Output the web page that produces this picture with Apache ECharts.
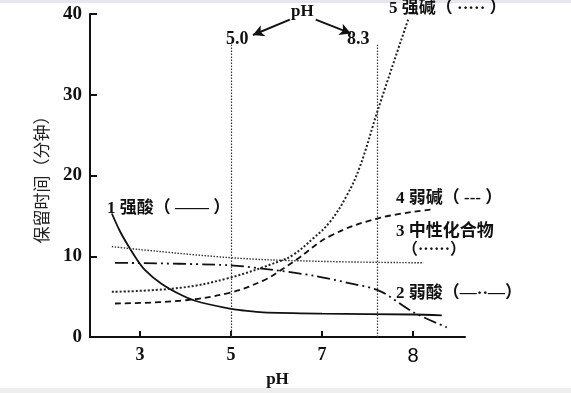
<!DOCTYPE html>
<html><head><meta charset="utf-8">
<script src="https://cdn.jsdelivr.net/npm/echarts@6/dist/echarts.min.js"></script>
<style>html,body{margin:0;padding:0;background:#fff}#c{width:571px;height:393px}</style>
</head><body><div id="c"></div>
<script>
// Tick labels
const xTickValues = [3, 5, 7, 9];
const xTickLabels = ['3', '5', '7', '8'];

// 1 strong acid (solid)
const strongAcidPH = [2.38, 2.55, 2.74, 2.92, 3.11, 3.47, 3.84, 4.21, 4.94, 5.3, 5.7, 7.0, 9.0, 9.63];
const strongAcidT  = [15.3, 13.2, 11.3, 9.7, 8.3, 6.6, 5.4, 4.5, 3.55, 3.27, 3.05, 2.9, 2.8, 2.7];
// 2 weak acid (dash-dot-dot)
const weakAcidPH = [2.45, 4.94, 6.08, 6.81, 7.54, 8.27, 9.0, 9.74];
const weakAcidT  = [9.2, 8.9, 8.2, 7.6, 6.75, 5.7, 3.1, 1.2];
// 3 neutral compound (fine dots)
const neutralPH = [2.38, 4.94, 6.81, 9.23];
const neutralT  = [11.2, 9.85, 9.4, 9.2];
// 4 weak base (dashed)
const weakBasePH = [2.45, 3.88, 4.94, 5.71, 6.07, 6.44, 7.17, 8.23, 9.41];
const weakBaseT  = [4.16, 4.5, 5.45, 7.0, 8.2, 9.6, 12.5, 14.7, 15.8];
// 5 strong base (dotted)
const strongBasePH = [2.38, 3.88, 4.94, 6.07, 6.37, 6.80, 7.17, 7.54, 7.83, 8.23, 8.89];
const strongBaseT  = [5.6, 6.1, 7.3, 9.4, 10.2, 12.2, 14.25, 17.5, 21.1, 28.2, 39.3];

// reference pH lines
const refPH = [5.0, 8.22];
const refTop = 36.2;

const zip = (a, b) => a.map((v, i) => [v, b[i]]);
const serif = '"Liberation Serif","DejaVu Serif","Noto Sans CJK SC",serif';
const cjk = '"Liberation Serif","Noto Sans CJK SC",serif';

const chart = echarts.init(document.getElementById('c'));
const lineBase = {type: 'line', showSymbol: false, symbol: 'none', smooth: 0.4, silent: true};

chart.setOption({
  backgroundColor: '#fff',
  animation: false,
  grid: {left: 90, right: 106, top: 14, bottom: 49},
  xAxis: {
    type: 'value', min: 1.9, max: 10.14,
    name: 'pH', nameLocation: 'middle', nameGap: 28,
    nameTextStyle: {fontFamily: serif, fontWeight: 'bold', fontSize: 17, color: '#111'},
    axisLine: {lineStyle: {color: '#111', width: 2}},
    axisTick: {inside: true, length: 6, customValues: xTickValues, lineStyle: {color: '#111', width: 2}},
    axisLabel: {customValues: xTickValues, margin: 9, color: '#111', fontFamily: serif, fontWeight: 'bold', fontSize: 18,
      formatter: v => { const i = xTickValues.indexOf(v); return i === 3 ? '{s|' + xTickLabels[i] + '}' : xTickLabels[i]; },
      rich: {s: {fontFamily: '"Liberation Sans",Arial,sans-serif', fontWeight: 'normal', fontSize: 20, color: '#000'}}},
    splitLine: {show: false}
  },
  yAxis: {
    type: 'value', min: 0, max: 40, interval: 10,
    name: '保留时间（分钟）', nameLocation: 'middle', nameGap: 37, nameRotate: 90,
    nameTextStyle: {fontFamily: cjk, fontSize: 17, color: '#222'},
    axisLine: {lineStyle: {color: '#111', width: 2}},
    axisTick: {inside: true, length: 7, lineStyle: {color: '#111', width: 2}},
    axisLabel: {margin: 8, color: '#111', fontFamily: serif, fontWeight: 'bold', fontSize: 19},
    splitLine: {show: false}
  },
  series: [
    Object.assign({}, lineBase, {name: '1', data: zip(strongAcidPH, strongAcidT), smooth: 0.3,
      lineStyle: {color: '#111', width: 1.8},
      markLine: {silent: true, symbol: 'none', label: {show: false},
        lineStyle: {color: '#333', width: 1.2, type: [1.5, 1.5]},
        data: refPH.map(p => [{coord: [p, 0]}, {coord: [p, refTop]}])}}),
    Object.assign({}, lineBase, {name: '2', data: zip(weakAcidPH, weakAcidT), smooth: 0.3,
      lineStyle: {color: '#111', width: 1.8, type: [13, 4, 2, 4, 2, 4]}}),
    Object.assign({}, lineBase, {name: '3', data: zip(neutralPH, neutralT),
      lineStyle: {color: '#333', width: 1.4, type: [1.5, 1.5]}}),
    Object.assign({}, lineBase, {name: '4', data: zip(weakBasePH, weakBaseT),
      lineStyle: {color: '#111', width: 1.8, type: [6, 4]}}),
    Object.assign({}, lineBase, {name: '5', data: zip(strongBasePH, strongBaseT),
      lineStyle: {color: '#222', width: 2, type: [2, 2]},
      markLine: {silent: true, symbol: ['none', 'arrow'], symbolSize: [9, 11], label: {show: false},
        lineStyle: {color: '#111', width: 2, type: 'solid'},
        data: [[{coord: [6.29, 39.3]}, {coord: [5.48, 37.4]}], [{coord: [6.86, 39.3]}, {coord: [7.63, 37.6]}]]}})
  ],
  graphic: [
    {type: 'rect', shape: {x: 0, y: 0, width: 571, height: 3}, style: {fill: '#e4e8ec'}, silent: true},
    {type: 'rect', shape: {x: 0, y: 388, width: 571, height: 5}, style: {fill: '#eeeeee'}, silent: true},
    {type: 'text', left: 291, top: 3, style: {text: 'pH', font: 'bold 17px ' + serif, fill: '#111'}},
    {type: 'text', left: 226, top: 30, style: {text: '5.0', font: 'bold 18px ' + serif, fill: '#111'}},
    {type: 'text', left: 347, top: 30, style: {text: '8.3', font: 'bold 18px ' + serif, fill: '#111'}},
    {type: 'text', left: 389, top: 0, style: {text: '5 强碱（ ····· ）', font: 'bold 17px ' + cjk, fill: '#111'}},
    {type: 'text', left: 107, top: 200, style: {text: '1 强酸（ —— ）', font: 'bold 17px ' + cjk, fill: '#111'}},
    {type: 'text', left: 396, top: 190, style: {text: '4 弱碱（ --- ）', font: 'bold 17px ' + cjk, fill: '#111'}},
    {type: 'text', left: 396, top: 223, style: {text: '3 中性化合物', font: 'bold 17px ' + cjk, fill: '#111'}},
    {type: 'text', left: 402, top: 242, style: {text: '（······）', font: 'bold 16px ' + cjk, fill: '#111'}},
    {type: 'text', left: 396, top: 285, style: {text: '2 弱酸（—··—）', font: 'bold 17px ' + cjk, fill: '#111'}}
  ]
});
</script></body></html>
